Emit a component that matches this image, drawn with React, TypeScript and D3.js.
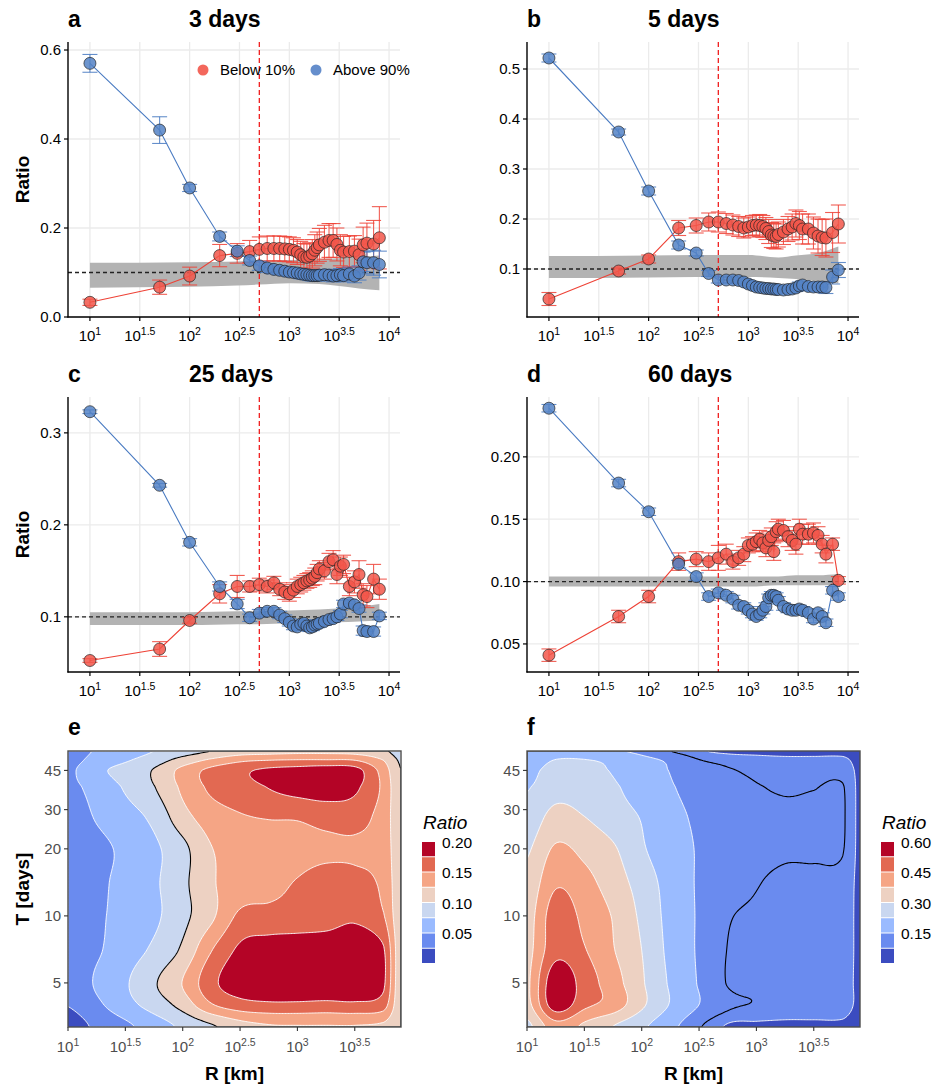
import { useEffect, useRef } from 'react';
import * as d3 from 'd3';

const FONT = "'Liberation Sans', Arial, Helvetica, sans-serif";

// distance bins (km) used in panels a-d
const R = [10, 50, 100, 200, 300, 400, 500, 600, 700, 800, 900, 1000, 1100, 1200, 1300, 1400, 1500, 1600, 1700, 1800,
  1900, 2000, 2250, 2500, 2750, 3000, 3250, 3500, 4000, 4500, 5000, 5500, 6000, 7000, 8000];

// 3 days
const redA = [0.033, 0.067, 0.092, 0.138, 0.143, 0.147, 0.152, 0.154, 0.154, 0.154, 0.153, 0.152, 0.150, 0.146, 0.140, 0.135, 0.134, 0.137, 0.142, 0.150,
  0.156, 0.162, 0.168, 0.172, 0.172, 0.163, 0.150, 0.146, 0.147, 0.148, 0.140, 0.162, 0.166, 0.164, 0.178];
const redErrA = [0.007, 0.016, 0.02, 0.025, 0.022, 0.025, 0.028, 0.028, 0.028, 0.028, 0.028, 0.028, 0.028, 0.028, 0.03, 0.03, 0.03, 0.03, 0.032, 0.035,
  0.035, 0.037, 0.038, 0.038, 0.038, 0.037, 0.035, 0.035, 0.035, 0.035, 0.035, 0.04, 0.045, 0.053, 0.07];
const blueA = [0.570, 0.420, 0.290, 0.181, 0.148, 0.127, 0.115, 0.110, 0.107, 0.105, 0.103, 0.101, 0.100, 0.099, 0.097, 0.096, 0.095, 0.094, 0.093, 0.093,
  0.093, 0.094, 0.095, 0.094, 0.092, 0.093, 0.095, 0.093, 0.097, 0.092, 0.099, 0.124, 0.122, 0.122, 0.118];
const blueErrA = [0.02, 0.03, 0.008, 0.01, 0.012, 0.01, 0.01, 0.01, 0.01, 0.01, 0.01, 0.01, 0.01, 0.01, 0.011, 0.011, 0.011, 0.012, 0.012, 0.012,
  0.012, 0.012, 0.012, 0.013, 0.013, 0.013, 0.014, 0.014, 0.015, 0.015, 0.016, 0.022, 0.025, 0.028, 0.03];

// 5 days
const redB = [0.040, 0.096, 0.120, 0.182, 0.187, 0.194, 0.194, 0.191, 0.188, 0.185, 0.182, 0.184, 0.187, 0.188, 0.187, 0.185, 0.181, 0.175, 0.168, 0.166,
  0.165, 0.169, 0.174, 0.180, 0.184, 0.191, 0.187, 0.180, 0.180, 0.172, 0.166, 0.163, 0.162, 0.173, 0.190];
const redErrB = [0.013, 0.006, 0.008, 0.015, 0.015, 0.018, 0.02, 0.02, 0.02, 0.02, 0.02, 0.02, 0.02, 0.02, 0.022, 0.022, 0.022, 0.024, 0.025, 0.025,
  0.025, 0.025, 0.025, 0.025, 0.026, 0.027, 0.028, 0.03, 0.03, 0.032, 0.034, 0.036, 0.038, 0.04, 0.038];
const blueB = [0.522, 0.374, 0.256, 0.148, 0.132, 0.091, 0.078, 0.078, 0.078, 0.077, 0.074, 0.070, 0.067, 0.064, 0.063, 0.062, 0.061, 0.061, 0.060, 0.060,
  0.059, 0.059, 0.058, 0.059, 0.060, 0.062, 0.066, 0.068, 0.065, 0.064, 0.064, 0.064, 0.063, 0.084, 0.098];
const blueErrB = [0.008, 0.006, 0.008, 0.008, 0.006, 0.006, 0.006, 0.006, 0.006, 0.006, 0.006, 0.006, 0.006, 0.006, 0.006, 0.006, 0.006, 0.006, 0.006, 0.006,
  0.006, 0.006, 0.006, 0.007, 0.007, 0.007, 0.008, 0.008, 0.008, 0.009, 0.009, 0.01, 0.012, 0.014, 0.015];

// 25 days
const redC = [0.0525, 0.065, 0.096, 0.125, 0.133, 0.133, 0.135, 0.133, 0.137, 0.130, 0.127, 0.125, 0.129, 0.133, 0.135, 0.137, 0.139, 0.140, 0.142, 0.144,
  0.148, 0.152, 0.150, 0.160, 0.162, 0.146, 0.155, 0.157, 0.133, 0.138, 0.146, 0.124, 0.122, 0.141, 0.130];
const redErrC = [0.002, 0.008, 0.003, 0.01, 0.012, 0.006, 0.007, 0.007, 0.007, 0.007, 0.008, 0.008, 0.008, 0.008, 0.008, 0.008, 0.008, 0.008, 0.008, 0.009,
  0.009, 0.009, 0.009, 0.009, 0.01, 0.01, 0.01, 0.01, 0.01, 0.012, 0.015, 0.012, 0.012, 0.016, 0.011];
const blueC = [0.323, 0.243, 0.181, 0.133, 0.114, 0.099, 0.104, 0.106, 0.106, 0.102, 0.098, 0.094, 0.090, 0.089, 0.092, 0.093, 0.090, 0.088, 0.089, 0.091,
  0.092, 0.093, 0.095, 0.097, 0.098, 0.100, 0.103, 0.114, 0.115, 0.113, 0.109, 0.085, 0.084, 0.084, 0.101];
const blueErrC = [0.002, 0.002, 0.004, 0.005, 0.005, 0.004, 0.004, 0.004, 0.004, 0.004, 0.004, 0.004, 0.004, 0.004, 0.004, 0.004, 0.004, 0.004, 0.004, 0.004,
  0.004, 0.004, 0.004, 0.004, 0.004, 0.004, 0.004, 0.004, 0.004, 0.004, 0.004, 0.005, 0.005, 0.005, 0.004];

// 60 days
const redD = [0.041, 0.072, 0.088, 0.116, 0.118, 0.116, 0.119, 0.122, 0.116, 0.119, 0.122, 0.129, 0.130, 0.132, 0.134, 0.131, 0.127, 0.133, 0.136, 0.124,
  0.140, 0.142, 0.141, 0.136, 0.133, 0.130, 0.142, 0.138, 0.138, 0.139, 0.137, 0.130, 0.122, 0.130, 0.101];
const redErrD = [0.005, 0.005, 0.005, 0.007, 0.006, 0.007, 0.01, 0.008, 0.006, 0.006, 0.006, 0.006, 0.006, 0.007, 0.007, 0.007, 0.007, 0.007, 0.007, 0.007,
  0.008, 0.008, 0.008, 0.008, 0.008, 0.008, 0.008, 0.008, 0.008, 0.008, 0.007, 0.007, 0.007, 0.005, 0.003];
const blueD = [0.239, 0.179, 0.156, 0.114, 0.104, 0.088, 0.091, 0.089, 0.086, 0.081, 0.080, 0.077, 0.074, 0.072, 0.074, 0.077, 0.080, 0.087, 0.089, 0.089,
  0.088, 0.085, 0.080, 0.078, 0.077, 0.077, 0.078, 0.077, 0.075, 0.070, 0.075, 0.072, 0.067, 0.093, 0.088];
const blueErrD = [0.003, 0.003, 0.003, 0.003, 0.003, 0.003, 0.003, 0.003, 0.003, 0.003, 0.003, 0.003, 0.003, 0.003, 0.003, 0.003, 0.003, 0.003, 0.003, 0.003,
  0.003, 0.003, 0.003, 0.003, 0.003, 0.003, 0.003, 0.003, 0.003, 0.003, 0.003, 0.003, 0.003, 0.003, 0.003];

// grey null band
const bandR = [10, 30, 100, 300, 500, 1000, 2000, 3000, 5000, 8000];
const bandLoA = [0.066, 0.067, 0.068, 0.071, 0.073, 0.076, 0.074, 0.070, 0.064, 0.060];
const bandHiA = [0.122, 0.122, 0.123, 0.125, 0.127, 0.128, 0.130, 0.132, 0.135, 0.138];
const bandLoB = [0.082, 0.082, 0.083, 0.084, 0.084, 0.084, 0.082, 0.080, 0.076, 0.071];
const bandHiB = [0.126, 0.126, 0.127, 0.128, 0.128, 0.128, 0.123, 0.127, 0.132, 0.145];
const bandLoC = [0.091, 0.091, 0.091, 0.092, 0.092, 0.093, 0.094, 0.094, 0.095, 0.096];
const bandHiC = [0.105, 0.105, 0.105, 0.106, 0.106, 0.107, 0.108, 0.109, 0.111, 0.114];
const bandLoD = [0.096, 0.096, 0.096, 0.096, 0.096, 0.096, 0.097, 0.097, 0.097, 0.097];
const bandHiD = [0.104, 0.104, 0.104, 0.104, 0.104, 0.104, 0.104, 0.105, 0.105, 0.106];

const xTickExps = [1, 1.5, 2, 2.5, 3, 3.5, 4];

// surfaces for panels e, f (rows: T in days, columns: R in km)
const gridT = [3.2, 4, 5, 7, 10, 14, 20, 28, 38, 45, 50, 55];
const gridR = [10, 17.78, 31.62, 56.23, 100, 177.8, 316.2, 562.3, 1000, 1778, 3162, 5623, 8000];
const gridE = [
  [0.012, 0.03, 0.045, 0.062, 0.08, 0.097, 0.115, 0.123, 0.124, 0.124, 0.124, 0.12, 0.102],
  [0.026, 0.045, 0.066, 0.086, 0.11, 0.148, 0.165, 0.17, 0.17, 0.168, 0.17, 0.162, 0.104],
  [0.032, 0.053, 0.072, 0.097, 0.126, 0.168, 0.19, 0.2, 0.2, 0.2, 0.2, 0.18, 0.105],
  [0.035, 0.047, 0.063, 0.08, 0.105, 0.149, 0.18, 0.188, 0.19, 0.192, 0.195, 0.178, 0.106],
  [0.035, 0.046, 0.058, 0.07, 0.093, 0.12, 0.155, 0.158, 0.16, 0.163, 0.17, 0.152, 0.106],
  [0.035, 0.045, 0.057, 0.071, 0.094, 0.122, 0.135, 0.142, 0.152, 0.162, 0.158, 0.145, 0.106],
  [0.035, 0.044, 0.055, 0.07, 0.093, 0.124, 0.133, 0.137, 0.14, 0.144, 0.146, 0.14, 0.105],
  [0.038, 0.052, 0.065, 0.082, 0.116, 0.138, 0.148, 0.152, 0.153, 0.16, 0.16, 0.14, 0.104],
  [0.045, 0.058, 0.078, 0.099, 0.13, 0.155, 0.165, 0.176, 0.185, 0.188, 0.18, 0.145, 0.102],
  [0.045, 0.068, 0.085, 0.102, 0.133, 0.157, 0.17, 0.18, 0.185, 0.19, 0.185, 0.14, 0.1],
  [0.042, 0.058, 0.072, 0.088, 0.11, 0.13, 0.145, 0.15, 0.152, 0.152, 0.15, 0.125, 0.096],
  [0.04, 0.052, 0.062, 0.075, 0.088, 0.1, 0.112, 0.115, 0.118, 0.118, 0.115, 0.105, 0.088],
];
const gridF = [
  [0.28, 0.42, 0.36, 0.3, 0.24, 0.17, 0.105, 0.072, 0.07, 0.07, 0.07, 0.07, 0.062],
  [0.35, 0.57, 0.47, 0.42, 0.315, 0.22, 0.15, 0.108, 0.098, 0.09, 0.09, 0.088, 0.068],
  [0.36, 0.58, 0.49, 0.41, 0.31, 0.215, 0.145, 0.098, 0.092, 0.09, 0.09, 0.088, 0.068],
  [0.35, 0.50, 0.455, 0.38, 0.30, 0.205, 0.142, 0.099, 0.093, 0.092, 0.092, 0.09, 0.068],
  [0.34, 0.49, 0.43, 0.37, 0.285, 0.2, 0.143, 0.104, 0.095, 0.092, 0.092, 0.09, 0.068],
  [0.32, 0.44, 0.40, 0.34, 0.268, 0.195, 0.143, 0.118, 0.102, 0.093, 0.093, 0.092, 0.068],
  [0.29, 0.385, 0.355, 0.31, 0.235, 0.18, 0.145, 0.125, 0.112, 0.105, 0.105, 0.102, 0.068],
  [0.25, 0.325, 0.3, 0.26, 0.22, 0.17, 0.14, 0.125, 0.112, 0.106, 0.107, 0.104, 0.068],
  [0.22, 0.27, 0.26, 0.235, 0.19, 0.155, 0.13, 0.113, 0.102, 0.097, 0.099, 0.102, 0.068],
  [0.2, 0.255, 0.245, 0.22, 0.18, 0.148, 0.125, 0.104, 0.095, 0.092, 0.092, 0.092, 0.068],
  [0.18, 0.228, 0.228, 0.21, 0.17, 0.14, 0.102, 0.09, 0.085, 0.082, 0.082, 0.082, 0.065],
  [0.155, 0.19, 0.19, 0.16, 0.135, 0.1, 0.078, 0.07, 0.068, 0.066, 0.066, 0.066, 0.06],
];
const levelsE = [0.025, 0.05, 0.075, 0.1, 0.125, 0.15, 0.175];
const levelsF = [0.075, 0.15, 0.225, 0.3, 0.375, 0.45, 0.525];
const legendTicksE = [0.2, 0.15, 0.1, 0.05];
const legendTicksF = [0.6, 0.45, 0.3, 0.15];
const heatXTicks = [1, 1.5, 2, 2.5, 3, 3.5];
const heatYTicks = [5, 10, 20, 30, 45];
const palette = ['#3B4CC0', '#6A8BEF', '#9ABBFF', '#C9D7F0', '#EDD1C2', '#F5A585', '#E26952', '#B40426'];

const topPanels = [
  { id: 'a', title: '3 days', left: 68, right: 400, top: 42, bottom: 317, yDomain: [0, 0.618], yTicks: [0, 0.2, 0.4, 0.6], fmt: '.1f',
    red: redA, redErr: redErrA, blue: blueA, blueErr: blueErrA, lo: bandLoA, hi: bandHiA, ylab: true, legend: true },
  { id: 'b', title: '5 days', left: 527, right: 859, top: 42, bottom: 317, yDomain: [0.004, 0.554], yTicks: [0.1, 0.2, 0.3, 0.4, 0.5], fmt: '.1f',
    red: redB, redErr: redErrB, blue: blueB, blueErr: blueErrB, lo: bandLoB, hi: bandHiB, ylab: false, legend: false },
  { id: 'c', title: '25 days', left: 68, right: 400, top: 397, bottom: 672, yDomain: [0.04, 0.339], yTicks: [0.1, 0.2, 0.3], fmt: '.1f',
    red: redC, redErr: redErrC, blue: blueC, blueErr: blueErrC, lo: bandLoC, hi: bandHiC, ylab: true, legend: false },
  { id: 'd', title: '60 days', left: 527, right: 859, top: 397, bottom: 672, yDomain: [0.0275, 0.248], yTicks: [0.05, 0.1, 0.15, 0.2], fmt: '.2f',
    red: redD, redErr: redErrD, blue: blueD, blueErr: blueErrD, lo: bandLoD, hi: bandHiD, ylab: false, legend: false },
];

const heatPanels = [
  { id: 'e', left: 68, right: 401, top: 751, bottom: 1027, grid: gridE, levels: levelsE, step: 0.025, max: 0.2, ticks: legendTicksE, legendX: 422, ylab: true },
  { id: 'f', left: 527, right: 860, top: 751, bottom: 1027, grid: gridF, levels: levelsF, step: 0.075, max: 0.6, ticks: legendTicksF, legendX: 881, ylab: false },
];

const RED = '#EE4236';
const BLUE = '#4A7BC2';

function supLabel(sel, x, y, exp, size, color) {
  const t = sel.append('text').attr('x', x).attr('y', y).attr('text-anchor', 'middle')
    .attr('font-size', size).attr('fill', color);
  t.append('tspan').text('10');
  t.append('tspan').attr('dy', -6).attr('font-size', size * 0.7).text(String(exp));
}

function drawTop(svg, p) {
  const x = d3.scaleLog().domain([10 ** 0.78, 10 ** 4.11]).range([p.left, p.right]);
  const y = d3.scaleLinear().domain(p.yDomain).range([p.bottom, p.top]);
  const g = svg.append('g');

  xTickExps.forEach(e => {
    g.append('line').attr('x1', x(10 ** e)).attr('x2', x(10 ** e)).attr('y1', p.top).attr('y2', p.bottom)
      .attr('stroke', '#EBEBEB').attr('stroke-width', 1.3);
  });
  p.yTicks.forEach(v => {
    g.append('line').attr('x1', p.left).attr('x2', p.right).attr('y1', y(v)).attr('y2', y(v))
      .attr('stroke', '#EBEBEB').attr('stroke-width', 1.3);
  });

  const band = bandR.map((r, i) => ({ r, lo: p.lo[i], hi: p.hi[i] }));
  const area = d3.area().x(d => x(d.r)).y0(d => y(d.lo)).y1(d => y(d.hi)).curve(d3.curveMonotoneX);
  g.append('path').datum(band).attr('d', area).attr('fill', '#B3B3B3');

  g.append('line').attr('x1', p.left).attr('x2', p.right).attr('y1', y(0.1)).attr('y2', y(0.1))
    .attr('stroke', '#222').attr('stroke-width', 1.3).attr('stroke-dasharray', '4,3');
  g.append('line').attr('x1', x(500)).attr('x2', x(500)).attr('y1', p.top).attr('y2', p.bottom)
    .attr('stroke', '#F01E1E').attr('stroke-width', 1.3).attr('stroke-dasharray', '5,3');

  const series = [
    { vals: p.red, err: p.redErr, color: RED, fill: '#F2564A' },
    { vals: p.blue, err: p.blueErr, color: BLUE, fill: '#5482C6' },
  ];
  series.forEach(s => {
    R.forEach((r, i) => {
      const cx = x(r);
      const y1 = y(s.vals[i] + s.err[i]);
      const y2 = y(s.vals[i] - s.err[i]);
      g.append('line').attr('x1', cx).attr('x2', cx).attr('y1', y1).attr('y2', y2)
        .attr('stroke', s.color).attr('stroke-width', 1.1).attr('stroke-opacity', 0.85);
      [y1, y2].forEach(yy => g.append('line').attr('x1', cx - 7.5).attr('x2', cx + 7.5).attr('y1', yy).attr('y2', yy)
        .attr('stroke', s.color).attr('stroke-width', 1.1).attr('stroke-opacity', 0.85));
    });
  });
  const line = d3.line().x(d => x(d[0])).y(d => y(d[1]));
  series.forEach(s => {
    g.append('path').datum(R.map((r, i) => [r, s.vals[i]])).attr('d', line)
      .attr('fill', 'none').attr('stroke', s.color).attr('stroke-width', 1.1);
  });
  series.forEach(s => {
    g.selectAll(null).data(R.map((r, i) => [r, s.vals[i]])).join('circle')
      .attr('cx', d => x(d[0])).attr('cy', d => y(d[1])).attr('r', 6)
      .attr('fill', s.fill).attr('fill-opacity', 0.85)
      .attr('stroke', '#222').attr('stroke-width', 0.8).attr('stroke-opacity', 0.85);
  });

  // axes
  g.append('line').attr('x1', p.left).attr('x2', p.left).attr('y1', p.top).attr('y2', p.bottom + 0.6)
    .attr('stroke', '#000').attr('stroke-width', 1.4);
  g.append('line').attr('x1', p.left - 0.6).attr('x2', p.right).attr('y1', p.bottom).attr('y2', p.bottom)
    .attr('stroke', '#000').attr('stroke-width', 1.4);
  const fmt = d3.format(p.fmt);
  p.yTicks.forEach(v => {
    g.append('line').attr('x1', p.left - 4).attr('x2', p.left).attr('y1', y(v)).attr('y2', y(v)).attr('stroke', '#000').attr('stroke-width', 1.2);
    g.append('text').attr('x', p.left - 7).attr('y', y(v)).attr('dy', '0.36em').attr('text-anchor', 'end')
      .attr('font-size', 15).attr('fill', '#000').text(fmt(v));
  });
  xTickExps.forEach(e => {
    g.append('line').attr('x1', x(10 ** e)).attr('x2', x(10 ** e)).attr('y1', p.bottom).attr('y2', p.bottom + 4)
      .attr('stroke', '#000').attr('stroke-width', 1.2);
    supLabel(g, x(10 ** e), p.bottom + 24, e, 15, '#000');
  });

  const titleY = p.top - 15;
  g.append('text').attr('x', p.left).attr('y', titleY).attr('font-size', 23).attr('font-weight', 'bold').text(p.id);
  g.append('text').attr('x', p.left + 121).attr('y', titleY).attr('font-size', 23).attr('font-weight', 'bold').text(p.title);
  if (p.ylab) {
    g.append('text').attr('transform', `translate(29,${(p.top + p.bottom) / 2}) rotate(-90)`)
      .attr('text-anchor', 'middle').attr('font-size', 19).attr('font-weight', 'bold').text('Ratio');
  }
  if (p.legend) {
    const items = [{ label: 'Below 10%', color: '#F2564A', x: 203 }, { label: 'Above 90%', color: '#5482C6', x: 316 }];
    items.forEach(it => {
      g.append('circle').attr('cx', it.x).attr('cy', 70).attr('r', 5.5).attr('fill', it.color).attr('fill-opacity', 0.9);
      g.append('text').attr('x', it.x + 17).attr('y', 75).attr('font-size', 15).text(it.label);
    });
  }
}

function catmull(p0, p1, p2, p3, t) {
  return p1 + 0.5 * t * (p2 - p0 + t * (2 * p0 - 5 * p1 + 4 * p2 - p3 + t * (3 * (p1 - p2) + p3 - p0)));
}

function drawHeat(svg, h) {
  const w = h.right - h.left;
  const ht = h.bottom - h.top;
  const x = d3.scaleLog().domain([10, 8000]).range([h.left, h.right]);
  const y = d3.scaleLog().domain([3.17, 55]).range([h.bottom, h.top]);
  const colIdx = d3.scaleLinear().domain(gridR.map(r => Math.log10(r))).range(gridR.map((_, i) => i)).clamp(true);
  const rowIdx = d3.scaleLinear().domain(gridT.map(t => Math.log10(t))).range(gridT.map((_, i) => i)).clamp(true);
  const nc = gridR.length;
  const nr = gridT.length;
  const at = (j, i) => h.grid[Math.max(0, Math.min(nr - 1, j))][Math.max(0, Math.min(nc - 1, i))];

  const nx = 222;
  const ny = 184;
  const values = new Float64Array(nx * ny);
  for (let iy = 0; iy < ny; iy++) {
    const fj = rowIdx(Math.log10(y.invert(h.top + (iy + 0.5) * ht / ny)));
    const j0 = Math.floor(Math.min(fj, nr - 1.0001));
    const tj = fj - j0;
    for (let ix = 0; ix < nx; ix++) {
      const fi = colIdx(Math.log10(x.invert(h.left + (ix + 0.5) * w / nx)));
      const i0 = Math.floor(Math.min(fi, nc - 1.0001));
      const ti = fi - i0;
      const rows = [-1, 0, 1, 2].map(dj => catmull(at(j0 + dj, i0 - 1), at(j0 + dj, i0), at(j0 + dj, i0 + 1), at(j0 + dj, i0 + 2), ti));
      values[iy * nx + ix] = catmull(rows[0], rows[1], rows[2], rows[3], tj);
    }
  }

  const sx = w / nx;
  const sy = ht / ny;
  const path = d3.geoPath(d3.geoTransform({
    point(px, py) { this.stream.point(h.left + px * sx, h.top + py * sy); },
  }));

  const clipId = `clip-${h.id}`;
  svg.append('clipPath').attr('id', clipId).append('rect')
    .attr('x', h.left).attr('y', h.top).attr('width', w).attr('height', ht);
  const g = svg.append('g').attr('clip-path', `url(#${clipId})`);
  g.append('rect').attr('x', h.left).attr('y', h.top).attr('width', w).attr('height', ht).attr('fill', palette[0]);

  const bands = d3.contours().size([nx, ny]).thresholds(h.levels)(Array.from(values));
  bands.forEach((c, i) => {
    g.append('path').attr('d', path(c)).attr('fill', palette[i + 1]);
  });
  bands.forEach(c => {
    g.append('path').attr('d', path(c)).attr('fill', 'none').attr('stroke', '#fff').attr('stroke-width', 0.9);
  });
  const ref = d3.contours().size([nx, ny]).thresholds([0.1])(Array.from(values));
  g.append('path').attr('d', path(ref[0])).attr('fill', 'none').attr('stroke', '#000').attr('stroke-width', 1.1);

  svg.append('rect').attr('x', h.left).attr('y', h.top).attr('width', w).attr('height', ht)
    .attr('fill', 'none').attr('stroke', '#4D4D4D').attr('stroke-width', 1.4);

  heatXTicks.forEach(e => {
    svg.append('line').attr('x1', x(10 ** e)).attr('x2', x(10 ** e)).attr('y1', h.bottom).attr('y2', h.bottom + 4)
      .attr('stroke', '#333').attr('stroke-width', 1.1);
    supLabel(svg, x(10 ** e), h.bottom + 25, e, 15, '#4D4D4D');
  });
  heatYTicks.forEach(t => {
    svg.append('line').attr('x1', h.left - 4).attr('x2', h.left).attr('y1', y(t)).attr('y2', y(t))
      .attr('stroke', '#333').attr('stroke-width', 1.1);
    svg.append('text').attr('x', h.left - 7).attr('y', y(t)).attr('dy', '0.36em').attr('text-anchor', 'end')
      .attr('font-size', 15).attr('fill', '#4D4D4D').text(String(t));
  });

  svg.append('text').attr('x', h.left).attr('y', 735).attr('font-size', 23).attr('font-weight', 'bold').text(h.id);
  svg.append('text').attr('x', (h.left + h.right) / 2).attr('y', 1080).attr('text-anchor', 'middle')
    .attr('font-size', 19).attr('font-weight', 'bold').text('R [km]');
  if (h.ylab) {
    svg.append('text').attr('transform', `translate(29,${(h.top + h.bottom) / 2}) rotate(-90)`)
      .attr('text-anchor', 'middle').attr('font-size', 19).attr('font-weight', 'bold').text('T [days]');
  }

  // legend
  const swTop = 842;
  const swH = 15.25;
  svg.append('text').attr('x', h.legendX + 1).attr('y', 829).attr('font-size', 19).attr('font-style', 'italic').text('Ratio');
  palette.slice().reverse().forEach((col, i) => {
    svg.append('rect').attr('x', h.legendX).attr('y', swTop + i * swH).attr('width', 13).attr('height', swH - 1).attr('fill', col);
  });
  h.ticks.forEach(v => {
    const yy = swTop + ((h.max - v) / h.step) * swH;
    svg.append('text').attr('x', h.legendX + 20).attr('y', yy).attr('dy', '0.36em')
      .attr('font-size', 15.5).attr('fill', '#000').text(d3.format('.2f')(v));
  });
}

export default function App() {
  const svgRef = useRef(null);

  useEffect(() => {
    document.body.style.margin = '0';
    const svg = d3.select(svgRef.current);
    svg.selectAll('*').remove();
    svg.append('rect').attr('width', 946).attr('height', 1086).attr('fill', '#fff');
    topPanels.forEach(p => drawTop(svg, p));
    heatPanels.forEach(h => drawHeat(svg, h));
  }, []);

  return <svg ref={svgRef} width={946} height={1086} style={{ display: 'block', fontFamily: FONT }} />;
}
